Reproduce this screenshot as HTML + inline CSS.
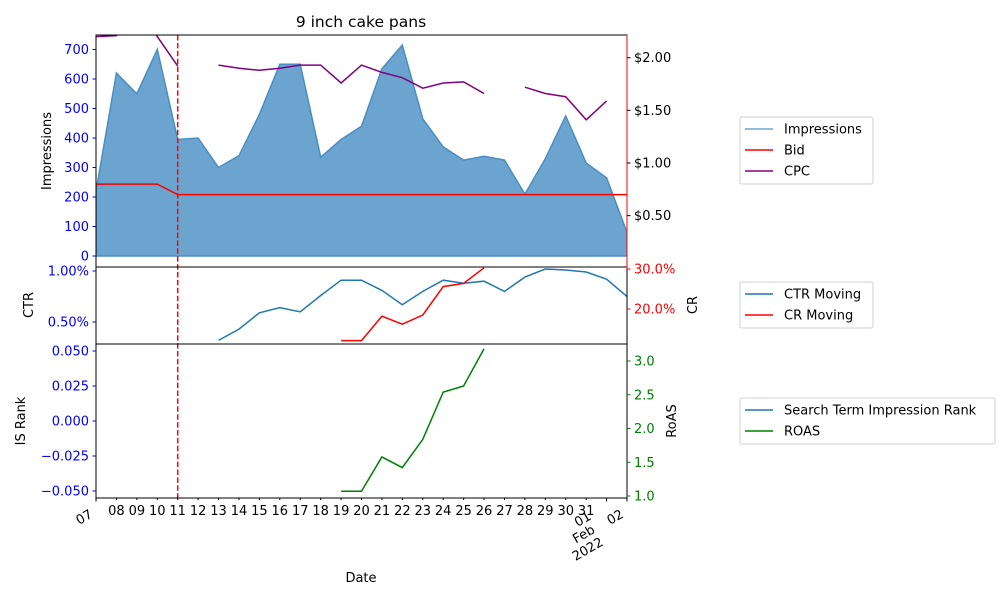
<!DOCTYPE html>
<html><head><meta charset="utf-8"><style>
html,body{margin:0;padding:0;background:#fff;}
svg{display:block;font-family:"DejaVu Sans","Liberation Sans",sans-serif;}
</style></head><body>
<svg id="chart" width="1000" height="600" viewBox="0 0 1000 600"></svg>
<script>
const days = ["07","08","09","10","11","12","13","14","15","16","17","18","19","20","21","22","23","24","25","26","27","28","29","30","31","01","02"];
const impressions = [220,620,550,700,395,400,300,340,480,650,650,335,395,440,635,715,465,370,325,338,325,210,330,475,315,265,80];
const bid = [0.80,0.80,0.80,0.80,0.70,0.70,0.70,0.70,0.70,0.70,0.70,0.70,0.70,0.70,0.70,0.70,0.70,0.70,0.70,0.70,0.70,0.70,0.70,0.70,0.70,0.70,0.70];
const cpc = [2.20,2.21,2.5,2.20,1.92,null,1.93,1.90,1.88,1.90,1.93,1.93,1.76,1.93,1.86,1.81,1.71,1.76,1.77,1.66,null,1.72,1.66,1.63,1.41,1.59,null];
const ctr = [null,null,null,null,null,null,0.32,0.43,0.59,0.64,0.60,0.76,0.91,0.91,0.81,0.67,0.80,0.91,0.88,0.90,0.80,0.94,1.02,1.01,0.99,0.92,0.75];
const cr = [null,null,null,null,null,null,null,null,null,null,null,null,12.1,12.1,18.2,16.2,18.5,25.6,26.4,30.3,null,null,null,null,null,null,null];
const roas = [null,null,null,null,null,null,null,null,null,null,null,null,1.07,1.07,1.58,1.42,1.84,2.54,2.63,3.18,null,null,null,null,null,null,null];
const impTicks = [0,100,200,300,400,500,600,700];
const cpcTicks = [0.5,1.0,1.5,2.0];
const ctrTicks = [0.5,1.0];
const crTicks = [20,30];
const isTicks = [-0.050,-0.025,0.000,0.025,0.050];
const roasTicks = [1.0,1.5,2.0,2.5,3.0];
const bidChangeIndex = 4;

const NS="http://www.w3.org/2000/svg";
const svg=document.getElementById('chart');
function el(tag,attrs,parent){const e=document.createElementNS(NS,tag);for(const k in attrs)e.setAttribute(k,attrs[k]);(parent||svg).appendChild(e);return e;}
const X0=96,X1=627;
const x=i=>X0+(X1-X0)*i/(days.length-1);
const P1={t:35,b:267}, P2={t:267,b:344}, P3={t:344,b:498};
const yImp=v=>256-v*0.295;
const yCpc=v=>163-(v-1)*105.3;
const yCtr=v=>271-(v-1)*102;
const yCr=v=>269-(v-30)*4.0;
const yIs=v=>351-(v-0.05)*1400;
const yRoas=v=>496-(v-1)*67.5;

const defs=el('defs',{});
[[P1,'c1'],[P2,'c2'],[P3,'c3']].forEach(([p,id])=>{const c=el('clipPath',{id},defs);el('rect',{x:X0,y:p.t,width:X1-X0,height:p.b-p.t},c);});

function linePath(arr,yf){let d='',pen=false;arr.forEach((v,i)=>{if(v==null){pen=false;return;}d+=(pen?'L':'M')+x(i).toFixed(1)+','+yf(v).toFixed(1);pen=true;});return d;}

let ad='M'+x(0)+','+yImp(0);
impressions.forEach((v,i)=>{ad+='L'+x(i).toFixed(1)+','+yImp(v).toFixed(1);});
ad+='L'+x(impressions.length-1)+','+yImp(0)+'Z';
const area=el('path',{d:ad,fill:'#6ba5cf',stroke:'#4a8ec4','stroke-width':1.5,'clip-path':'url(#c1)'});


const bidL=el('path',{d:linePath(bid,yCpc),fill:'none',stroke:'#ff0000','stroke-width':1.5,'clip-path':'url(#c1)'});


const cpcL=el('path',{d:linePath(cpc,yCpc),fill:'none',stroke:'#800080','stroke-width':1.5,'clip-path':'url(#c1)'});


const ctrL=el('path',{d:linePath(ctr,yCtr),fill:'none',stroke:'#1f77b4','stroke-width':1.5,'clip-path':'url(#c2)'});


const crL=el('path',{d:linePath(cr,yCr),fill:'none',stroke:'#ff0000','stroke-width':1.5,'clip-path':'url(#c2)'});


const roasL=el('path',{d:linePath(roas,yRoas),fill:'none',stroke:'#008000','stroke-width':1.5,'clip-path':'url(#c3)'});



const vl=el('line',{x1:x(bidChangeIndex),x2:x(bidChangeIndex),y1:P1.t,y2:P3.b,stroke:'#ff0000','stroke-width':1.5,'stroke-dasharray':'5.5,2.4'});



[[P1,'top'],[P2,'middle'],[P3,'bottom']].forEach(([p,n])=>{
  const r=el('rect',{x:X0,y:p.t,width:X1-X0,height:p.b-p.t,fill:'none',stroke:'#000','stroke-width':1});
  
  
});
el('line',{x1:X1,x2:X1,y1:P1.t,y2:P2.t+2,stroke:'#ff0000','stroke-width':1});

function ticksL(vals,yf,fmt,color,name){const g=el('g',{});vals.forEach(v=>{const y=yf(v);el('line',{x1:X0-3.5,x2:X0,y1:y,y2:y,stroke:color},g);const t=el('text',{x:X0-7,y:y+4.5,'text-anchor':'end','font-size':13,fill:color},g);t.textContent=fmt(v);});}
function ticksR(vals,yf,fmt,color,name){const g=el('g',{});vals.forEach(v=>{const y=yf(v);el('line',{x1:X1,x2:X1+3.5,y1:y,y2:y,stroke:color},g);const t=el('text',{x:X1+7,y:y+4.5,'text-anchor':'start','font-size':13,fill:color},g);t.textContent=fmt(v);});}
ticksL(impTicks,yImp,v=>String(v),'#0000ff','impressions-y-axis');
ticksR(cpcTicks,yCpc,v=>'$'+v.toFixed(2),'#000','cpc-y-axis');
ticksL(ctrTicks,yCtr,v=>v.toFixed(2)+'%','#0000ff','ctr-y-axis');
ticksR(crTicks,yCr,v=>v.toFixed(1)+'%','#ff0000','cr-y-axis');
ticksL(isTicks,yIs,v=>(v<0?'\u2212':'')+Math.abs(v).toFixed(3),'#0000ff','is-rank-y-axis');
ticksR(roasTicks,yRoas,v=>v.toFixed(1),'#008000','roas-y-axis');

const xg=el('g',{});
function rotText(s,cx,cy,parent){const t=el('text',{x:cx,y:cy+4.5,'text-anchor':'middle','font-size':13,fill:'#000',transform:`rotate(-30 ${cx} ${cy})`},parent);t.textContent=s;}
days.forEach((d,i)=>{
  const xx=x(i);const major=(i===0||d==='01'||i===days.length-1);
  el('line',{x1:xx,x2:xx,y1:P3.b,y2:P3.b+(major?3.5:2),stroke:'#000'},xg);
  if(!major){const t=el('text',{x:xx,y:P3.b+17,'text-anchor':'middle','font-size':13,fill:'#000'},xg);t.textContent=d;}
  else if(d==='01'){
    rotText('01',xx-24,519,xg);
    rotText('Feb',xx-23,534,xg);
    rotText('2022',xx-19,549,xg);
  } else {
    rotText(d,xx-12,517,xg);
  }
});

function txt(s,attrs,name){const t=el('text',Object.assign({'font-size':13,fill:'#000'},attrs));t.textContent=s;return t;}
txt('9 inch cake pans',{x:361,y:27,'text-anchor':'middle','font-size':15.5},'chart-title');
txt('Date',{x:361,y:582,'text-anchor':'middle'},'x-axis-title');
txt('Impressions',{x:51,y:151,'text-anchor':'middle',transform:'rotate(-90 51 151)'},'impressions-axis-title');
txt('CTR',{x:33,y:305,'text-anchor':'middle',transform:'rotate(-90 33 305)'},'ctr-axis-title');
txt('CR',{x:697,y:305,'text-anchor':'middle',transform:'rotate(-90 697 305)'},'cr-axis-title');
txt('IS Rank',{x:25,y:421,'text-anchor':'middle',transform:'rotate(-90 25 421)'},'is-rank-axis-title');
txt('RoAS',{x:676,y:421,'text-anchor':'middle',transform:'rotate(-90 676 421)'},'roas-axis-title');

function legend(x0,y0,w,items,name){
  const g=el('g',{});
  el('rect',{x:x0,y:y0,width:w,height:items.length*21+4,rx:2,fill:'#fff',stroke:'#d0d0d0'},g);
  items.forEach(([lab,col],k)=>{const yy=y0+12+k*21;el('line',{x1:x0+5,x2:x0+33,y1:yy,y2:yy,stroke:col,'stroke-width':1.5},g);const t=el('text',{x:x0+44,y:yy+4.5,'font-size':13,fill:'#000'},g);t.textContent=lab;});
}
legend(740,117,133,[['Impressions','#6ba5cf'],['Bid','#ff0000'],['CPC','#800080']],'top-legend');
legend(740,282,133,[['CTR Moving','#1f77b4'],['CR Moving','#ff0000']],'middle-legend');
legend(740,398,255,[['Search Term Impression Rank','#1f77b4'],['ROAS','#008000']],'bottom-legend');
</script>
</body></html>
